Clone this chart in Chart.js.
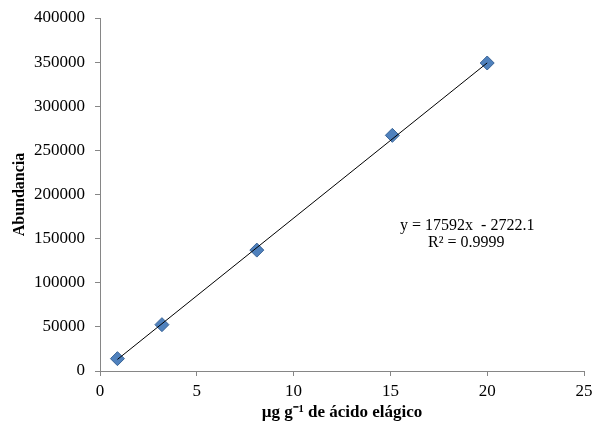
<!DOCTYPE html>
<html>
<head>
<meta charset="utf-8">
<script src="https://cdn.jsdelivr.net/npm/chart.js@4/dist/chart.umd.min.js"></script>
<style>
  html, body { margin: 0; padding: 0; background: #fff; }
  #wrap { width: 592px; height: 425px; position: relative; }
</style>
</head>
<body>
<div id="wrap"><canvas id="c" width="592" height="425"></canvas></div>
<script>
// Data
const concentrations = [0.9, 3.2, 8.1, 15.1, 20.0];
const abundances = [14000, 52500, 137000, 267000, 349000];
const slope = 17592;
const intercept = -2722.1;
const equationText = "y = 17592x  - 2722.1";
const r2Text = "R\u00B2 = 0.9999";
const xTitle = "\u00B5g g\u207B\u00B9 de \u00E1cido el\u00E1gico";
const yTitle = "Abundancia";

const FONT = "'Liberation Serif', 'Times New Roman', serif";
const AXIS = '#868686';

const points = concentrations.map((x, i) => ({ x: x, y: abundances[i] }));
const xMin = Math.min(...concentrations), xMax = Math.max(...concentrations);
const trend = [xMin, xMax].map(x => ({ x: x, y: slope * x + intercept }));

const annot = {
  id: 'annot',
  afterDraw(chart) {
    const ctx = chart.ctx;
    const xs = chart.scales.x, ys = chart.scales.y;
    const px = xs.getPixelForValue(15.5);
    const py = ys.getPixelForValue(165000);
    ctx.save();
    ctx.fillStyle = '#000';
    ctx.font = '16px ' + FONT;
    ctx.textBaseline = 'middle';
    ctx.textAlign = 'left';
    ctx.fillText(equationText, px, py);
    ctx.fillText(r2Text, px + 28, py + 17);
    ctx.restore();
  }
};

new Chart(document.getElementById('c'), {
  type: 'scatter',
  data: {
    datasets: [
      {
        label: 'Lineal',
        data: trend,
        showLine: true,
        borderColor: '#000',
        borderWidth: 1,
        pointRadius: 0,
        fill: false,
        order: 0
      },
      {
        label: 'Abundancia',
        data: points,
        pointStyle: 'rectRot',
        pointRadius: 7,
        pointBackgroundColor: '#4F81BD',
        pointBorderColor: '#3A6496',
        pointBorderWidth: 1,
        showLine: false,
        order: 1
      }
    ]
  },
  options: {
    responsive: false,
    animation: false,
    layout: { padding: { top: 18, right: 8, bottom: 0, left: 0 } },
    plugins: { legend: { display: false }, tooltip: { enabled: false } },
    scales: {
      x: {
        type: 'linear',
        min: 0, max: 25,
        ticks: { stepSize: 5, color: '#000', font: { family: FONT, size: 17 }, padding: 5, maxRotation: 0 },
        grid: { drawOnChartArea: false, drawTicks: true, tickLength: 5, color: AXIS },
        border: { color: AXIS, width: 1 },
        title: { display: true, text: xTitle, color: '#000', font: { family: FONT, size: 17, weight: 'bold' }, padding: { top: 4, bottom: 2 } },
        afterFit(s) { s.height = 54; s.paddingLeft = 0; s.paddingRight = 0; }
      },
      y: {
        type: 'linear',
        min: 0, max: 400000,
        ticks: { stepSize: 50000, color: '#000', font: { family: FONT, size: 17 }, padding: 10, callback: v => String(v) },
        grid: { drawOnChartArea: false, drawTicks: true, tickLength: 5, color: AXIS },
        border: { color: AXIS, width: 1 },
        title: { display: true, text: yTitle, color: '#000', font: { family: FONT, size: 16, weight: 'bold' }, padding: { top: 10, bottom: 4 } },
        afterFit(s) { s.width = 100; s.paddingTop = 0; s.paddingBottom = 0; }
      }
    }
  },
  plugins: [annot]
});
</script>
</body>
</html>
